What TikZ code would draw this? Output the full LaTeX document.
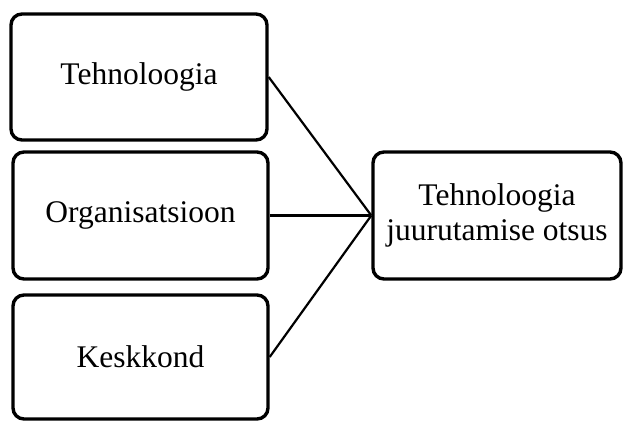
\documentclass[tikz,border=0pt]{standalone}
\usepackage{fontspec}
\setmainfont{Liberation Serif}
\begin{document}
\begin{tikzpicture}[x=1pt,y=-1pt,
  box/.style={draw=black, line width=3.4pt, rounded corners=11pt, inner sep=0pt,
    align=center, font=\fontsize{31.5}{35}\selectfont},
  link/.style={draw=black, line width=2.2pt}]
\useasboundingbox (0,0) rectangle (625,422);
\node[box, minimum width=256pt, minimum height=126pt] (tech) at (139,77) {Tehnoloogia};
\node[box, minimum width=255pt, minimum height=127pt] (org) at (140.5,215.5) {Organisatsioon};
\node[box, minimum width=255pt, minimum height=124pt] (env) at (140.5,357) {Keskkond};
\node[box, minimum width=248pt, minimum height=127pt] (dec) at (497,215.5) {Tehnoloogia\\juurutamise otsus};
\draw[link] (tech.east) -- (dec.west);
\draw[link] (org.east) -- (dec.west);
\draw[link] (env.east) -- (dec.west);
\end{tikzpicture}
\end{document}
